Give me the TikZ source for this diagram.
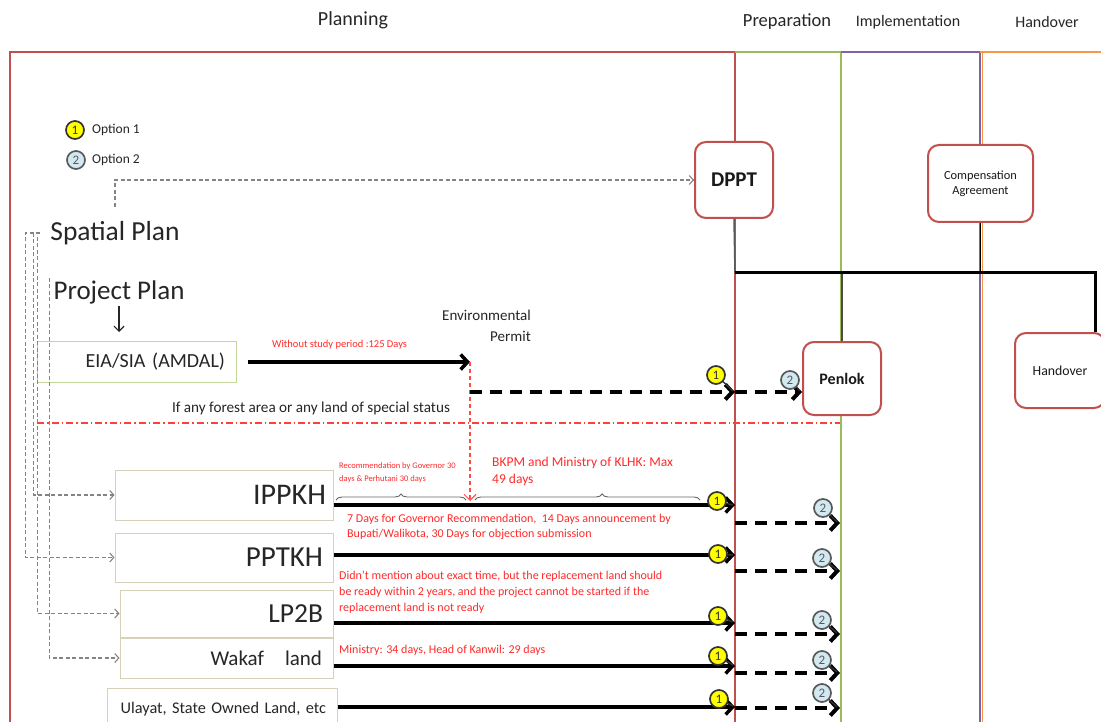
\documentclass[tikz,border=0pt]{standalone}
\usepackage{fontspec}
\setmainfont{Carlito}
\usetikzlibrary{arrows.meta,decorations.pathreplacing}

\definecolor{frRed}{HTML}{C0504D}
\definecolor{frGreen}{HTML}{9BBB59}
\definecolor{frPurple}{HTML}{8064A2}
\definecolor{frOrange}{HTML}{F79646}
\definecolor{landEdge}{HTML}{D6D2BA}
\definecolor{eiaEdge}{HTML}{C3D69B}
\definecolor{noteRed}{HTML}{FF2A2A}
\definecolor{optOne}{HTML}{FFFF00}
\definecolor{optTwo}{HTML}{D3E9F1}
\definecolor{guide}{HTML}{848484}

\newcommand{\fsz}[2]{\fontsize{#1}{#2}\selectfont}
% option marker: style, name, position, arrow tip, number
\newcommand{\optmark}[5]{%
  \draw[line width=1.4pt, black!80] (#3) -- (#4);
  \node[#1] (#2) at (#3) {#5};}

\begin{document}
\begin{tikzpicture}[x=1pt, y=-1pt,
  txt/.style={text=black!85, inner sep=2pt},
  frame/.style={line width=2pt},
  stage/.style={draw=frRed, line width=2pt, rounded corners=11pt, fill=white,
    align=center, inner sep=2pt, text=black!90},
  land/.style={draw=landEdge, line width=1pt, fill=white, align=right,
    inner ysep=0pt, text=black!85},
  note/.style={text=noteRed, align=left, inner sep=0pt, anchor=west},
  flow/.style={line width=3.5pt, -{Straight Barb[length=7pt,width=15pt]}},
  flowdash/.style={line width=4pt, dash pattern=on 12pt off 8pt,
    -{Straight Barb[length=7pt,width=15pt]}},
  gd/.style={guide, line width=1.1pt, dash pattern=on 4pt off 2.5pt,
    -{Straight Barb[length=4pt,width=9pt]}},
  opt/.style={circle, line width=1.7pt, inner sep=0pt, minimum size=18pt,
    font=\fsz{13}{13}},
  one/.style={opt, draw=black!80, fill=optOne, text=black!80},
  two/.style={opt, draw=black!65, fill=optTwo, text=black!65},
]
\useasboundingbox (0,0) rectangle (1101,722);
\clip (0,0) rectangle (1101,722);
\fill[white] (0,0) rectangle (1101,722);

% phase headings
\node[txt, font=\fsz{20}{24}] (hPlan) at (353,20) {Planning};
\node[txt, font=\fsz{18.5}{22}] (hPrep) at (787,22) {Preparation};
\node[txt, font=\fsz{16}{19}] (hImpl) at (908,22) {Implementation};
\node[txt, font=\fsz{16}{19}] (hHand) at (1047,22) {Handover};

% phase frame
\draw[frame, frRed] (10,730) -- (10,52) -- (735,52) -- (735,730);
\draw[frame, frGreen] (735,52) -- (841,52) -- (841,730);
\draw[frame, frPurple] (841,52) -- (979.5,52) -- (979.5,730);
\draw[frame, frOrange] (979.5,52) -- (1105,52);
\draw[frOrange, line width=1.2pt] (982.5,53) -- (982.5,730);

% legend
\node[one] (leg1) at (75,130) {1};
\node[txt, font=\fsz{13.5}{16}, anchor=west] (leg1t) at (90,130) {Option 1};
\node[two] (leg2) at (76,160) {2};
\node[txt, font=\fsz{13.5}{16}, anchor=west] (leg2t) at (90,160) {Option 2};

% hand-off coordinates shared by the stage boxes
\coordinate (jl) at (735,273);
\coordinate (jr) at (1095,273);

% stage boxes
\node[stage, minimum width=78pt, minimum height=76pt, font=\bfseries\fsz{21}{24}] (dppt) at (734,180) {DPPT};
\node[stage, minimum width=105pt, minimum height=77pt, font=\fsz{12.4}{15}] (comp) at (980.5,183.5) {Compensation\\Agreement};
\node[stage, minimum width=78pt, minimum height=73pt, font=\bfseries\fsz{16}{19}] (penlok) at (842,378.5) {Penlok};
\node[stage, minimum width=90pt, minimum height=75pt, font=\fsz{13.8}{16}] (hand) at (1060,370.5) {Handover};

% links between the stages
\draw[line width=1.5pt, black!65] (dppt.south) -- (jl);
\draw[line width=1.2pt, black] (comp.south) -- (comp.south |- jl);
\draw[line width=1.2pt, black!70] (penlok.north |- jl) -- (penlok.north);
\draw[line width=3pt, black] (jl) -- (jr) -- (jr |- hand.north);

% plans
\node[txt, font=\fsz{27.5}{30}] (spatial) at (115,233) {Spatial Plan};
\node[txt, font=\fsz{27}{30}] (project) at (119,292) {Project Plan};

% land boxes
\node[land, draw=eiaEdge, minimum height=41pt, text width=177pt, inner xsep=11pt, font=\fsz{20}{22}] (eia) at (136.5,362) {EIA/SIA (AMDAL)};
\node[land, minimum height=50pt, text width=204pt, inner xsep=7pt, font=\fsz{30}{32}] (ippkh) at (224,495) {IPPKH};
\node[land, minimum height=49pt, text width=198pt, inner xsep=10pt, font=\fsz{29}{31}] (pptkh) at (224,557.5) {PPTKH};
\node[land, minimum height=47pt, text width=193pt, inner xsep=10pt, font=\fsz{27.5}{30}] (lp2b) at (226.5,613.5) {LP2B};
\node[land, minimum height=40pt, text width=191pt, inner xsep=11pt, font=\fsz{21}{24}] (wakaf) at (226.5,658) {Wakaf\ \ \ land};
\node[land, minimum height=42pt, text width=208pt, inner xsep=11pt, font=\fsz{16.3}{19}] (ulayat) at (222,709) {Ulayat, State Owned Land, etc};

% guide lines from the plans
\draw[gd] ([yshift=26pt]spatial.center) |- (dppt.west);
\draw[gd] ([xshift=-8pt]spatial.west) -- ++(-15,0) |- (pptkh.west);
\draw[gd] ([xshift=-8pt]spatial.west) -- ++(-6.5,0) |- (ippkh.west);
\draw[gd] ([xshift=-8pt]spatial.west) -- ++(-2.5,0) |- (lp2b.west);
\draw[gd] ([xshift=-2pt,yshift=14pt]project.west) |- (wakaf.west);
\draw[line width=1.2pt, black!85, -{Straight Barb[length=5pt,width=10pt]}, shorten >=9pt]
  (project.south) -- (project.south |- eia.north);

% environmental permit
\coordinate (permit) at (470,362);
\coordinate (permitLow) at (470,392);
\coordinate (prepA) at (735,392);
\coordinate (ippkhMark) at (470,501);
\draw[noteRed!90, line width=1.2pt, dash pattern=on 7pt off 3pt on 1.5pt off 3pt] (37,423) -- (840,423);
\draw[flow, shorten <=11pt] (eia.east) -- (permit);
\node[note, font=\fsz{10.5}{12}] (n125) at (272,345) {Without study period :125 Days};
\node[txt, align=right, anchor=east, font=\fsz{15}{21}] (envp) at (533,326) {Environmental\\Permit};
\draw[noteRed!85, line width=1.1pt, dash pattern=on 4pt off 3pt,
  -{Straight Barb[length=6pt,width=12pt,line width=1pt]}] (permit) -- (ippkhMark);
\draw[flowdash] (permitLow) -- (prepA);
\draw[flowdash] (prepA) -- (penlok.west |- prepA);
\node[txt, font=\fsz{15.2}{18}] (forest) at (311,408) {If any forest area or any land of special status};

% time notes
\draw[decorate, decoration={brace, amplitude=6pt, aspect=0.5}, black!60, line width=0.9pt] (336,500) -- (466,500);
\draw[decorate, decoration={brace, amplitude=6pt, aspect=0.565}, black!60, line width=0.9pt] (475,500) -- (700,500);
\node[note, font=\fsz{8.5}{12.5}] (nGov) at (339,472.5) {Recommendation by Governor 30\\days \& Perhutani 30 days};
\node[note, font=\fsz{13.5}{17}] (nBkpm) at (492,471.5) {BKPM and Ministry of KLHK: Max\\49 days};
\node[note, font=\fsz{12}{14.5}] (nAnn) at (347,527) {7 Days for Governor Recommendation,\ \ 14 Days announcement by\\Bupati/Walikota, 30 Days for objection submission};
\node[note, font=\fsz{12}{16}] (nRepl) at (339,592) {Didn't mention about exact time, but the replacement land should\\be ready within 2 years, and the project cannot be started if the\\replacement land is not ready};
\node[note, font=\fsz{12}{14}] (nKanwil) at (339,650) {Ministry: 34 days, Head of Kanwil: 29 days};

% permit routes into preparation
\coordinate (t1) at (735,505);   \coordinate (s1) at (735,523); \coordinate (e1) at (840,523);
\coordinate (t2) at (735,555);   \coordinate (s2) at (735,571); \coordinate (e2) at (840,571);
\coordinate (t3) at (735,623);   \coordinate (s3) at (735,634); \coordinate (e3) at (840,634);
\coordinate (t4) at (735,666);   \coordinate (s4) at (735,673); \coordinate (e4) at (840,673);
\coordinate (t5) at (735,707);   \coordinate (s5) at (735,708); \coordinate (e5) at (840,708);
\draw[flow] (ippkh.east |- t1) -- (t1);
\draw[flow] (pptkh.east |- t2) -- (t2);
\draw[flow] (lp2b.east |- t3) -- (t3);
\draw[flow] (wakaf.east |- t4) -- (t4);
\draw[flow] (ulayat.east |- t5) -- (t5);
\draw[flowdash] (s1) -- (e1);
\draw[flowdash] (s2) -- (e2);
\draw[flowdash] (s3) -- (e3);
\draw[flowdash] (s4) -- (e4);
\draw[flowdash] (s5) -- (e5);

% option markers
\optmark{one}{m0a}{716,375}{733,391}{1}
\optmark{two}{m0b}{790,380}{800,391}{2}
\optmark{one}{m1a}{717,501}{733,505}{1}
\optmark{two}{m1b}{823,508}{837,522}{2}
\optmark{one}{m2a}{718,554}{733,555}{1}
\optmark{two}{m2b}{822,558}{837,570}{2}
\optmark{one}{m3a}{718,616}{733,622}{1}
\optmark{two}{m3b}{822,620}{837,633}{2}
\optmark{one}{m4a}{718,656}{733,665}{1}
\optmark{two}{m4b}{822,660}{837,672}{2}
\optmark{one}{m5a}{719,699}{733,706}{1}
\optmark{two}{m5b}{822,693}{837,707}{2}
\end{tikzpicture}
\end{document}
